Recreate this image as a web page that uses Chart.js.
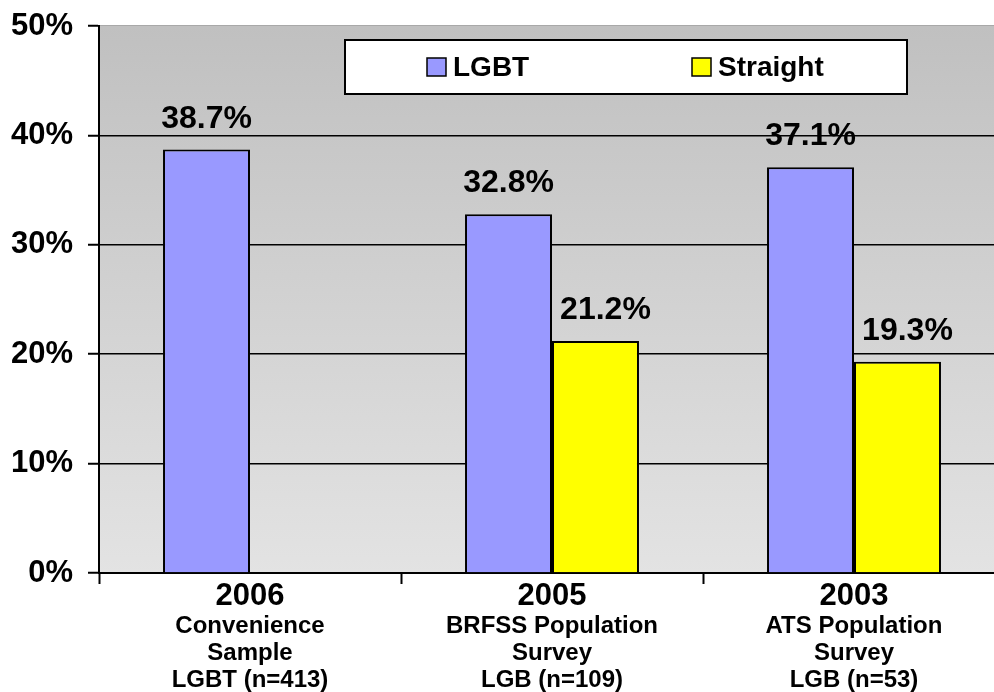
<!DOCTYPE html>
<html>
<head>
<meta charset="utf-8">
<script src="https://cdn.jsdelivr.net/npm/chart.js@4"></script>
<style>
  html, body { margin: 0; padding: 0; background: #fff; overflow: hidden; }
  #wrap { position: absolute; left: 0; top: 0; width: 1005px; height: 692px; }
</style>
</head>
<body>
<div id="wrap"><canvas id="c" width="1005" height="692"></canvas></div>
<script>
// Survey years and sample descriptions
const years = ['2006', '2005', '2003'];
const sampleNotes = [
  ['Convenience', 'Sample', 'LGBT (n=413)'],
  ['BRFSS Population', 'Survey', 'LGB (n=109)'],
  ['ATS Population', 'Survey', 'LGB (n=53)']
];
// Smoking rates (%)
const lgbtRates = [38.7, 32.8, 37.1];
const straightRates = [null, 21.2, 19.3];
const yTicks = [0, 10, 20, 30, 40, 50];

const FONT = '"Liberation Sans", Arial, sans-serif';

// Gray gradient behind the plot
const plotBackground = {
  id: 'plotBackground',
  beforeDraw(chart) {
    const { ctx, chartArea: a } = chart;
    const g = ctx.createLinearGradient(0, a.top, 0, a.bottom);
    g.addColorStop(0, '#c0c0c0');
    g.addColorStop(1, '#e3e3e3');
    ctx.save();
    ctx.fillStyle = g;
    ctx.fillRect(a.left, a.top, a.right - a.left, a.bottom - a.top);
    ctx.strokeStyle = '#a8a8a8';
    ctx.lineWidth = 1;
    ctx.beginPath();
    ctx.moveTo(a.left, a.top - 0.5);
    ctx.lineTo(a.right, a.top - 0.5);
    ctx.stroke();
    ctx.restore();
  }
};

// Value labels above each bar
const valueLabels = {
  id: 'valueLabels',
  afterDatasetsDraw(chart) {
    const { ctx } = chart;
    const shift = [0, 10];
    ctx.save();
    ctx.font = 'bold 32px ' + FONT;
    ctx.fillStyle = '#000';
    ctx.textAlign = 'center';
    ctx.textBaseline = 'alphabetic';
    chart.data.datasets.forEach((ds, i) => {
      chart.getDatasetMeta(i).data.forEach((el, j) => {
        const v = ds.data[j];
        if (v == null) return;
        ctx.fillText(v.toFixed(1) + '%', el.x + shift[i], el.y - 22);
      });
    });
    ctx.restore();
  }
};

// Boxed legend inside the plot area
const boxedLegend = {
  id: 'boxedLegend',
  afterDraw(chart) {
    const { ctx, chartArea: a } = chart;
    const left = a.left + 246, top = a.top + 14, w = 562, h = 54;
    const itemX = [left + 82, left + 347];
    ctx.save();
    ctx.fillStyle = '#fff';
    ctx.fillRect(left, top, w, h);
    ctx.strokeStyle = '#000';
    ctx.lineWidth = 2;
    ctx.strokeRect(left, top, w, h);
    ctx.font = 'bold 28px ' + FONT;
    ctx.textBaseline = 'middle';
    ctx.textAlign = 'left';
    chart.data.datasets.forEach((ds, i) => {
      const x = itemX[i], cy = top + h / 2;
      ctx.fillStyle = ds.backgroundColor;
      ctx.fillRect(x, cy - 9, 19, 18);
      ctx.lineWidth = 1.5;
      ctx.strokeStyle = '#000';
      ctx.strokeRect(x, cy - 9, 19, 18);
      ctx.fillStyle = '#000';
      ctx.fillText(ds.label, x + 26, cy + 1);
    });
    ctx.restore();
  }
};

new Chart(document.getElementById('c'), {
  type: 'bar',
  data: {
    labels: years,
    datasets: [
      { label: 'LGBT', data: lgbtRates, backgroundColor: '#9999ff', borderColor: '#000', borderWidth: 2 },
      { label: 'Straight', data: straightRates, backgroundColor: '#ffff00', borderColor: '#000', borderWidth: 2 }
    ]
  },
  options: {
    responsive: false,
    animation: false,
    devicePixelRatio: 1,
    categoryPercentage: 0.576,
    barPercentage: 1,
    layout: { padding: { left: 0, right: 0, top: 26, bottom: 0 } },
    plugins: { legend: { display: false }, tooltip: { enabled: false } },
    scales: {
      y: {
        min: 0, max: 50,
        afterBuildTicks: s => { s.ticks = yTicks.map(v => ({ value: v })); },
        afterFit: s => { s.width = 99; },
        ticks: {
          padding: 15,
          color: '#000',
          font: { family: FONT, size: 31, weight: 'bold', lineHeight: '20px' },
          callback: v => v + '%'
        },
        grid: {
          color: c => (c.tick && c.tick.value === 50) ? 'rgba(0,0,0,0)' : '#000',
          lineWidth: 1.5,
          tickLength: 11,
          tickColor: '#000',
          tickWidth: 2
        },
        border: { display: true, color: '#000', width: 2 }
      },
      x: {
        weight: 0,
        offset: true,
        afterFit: s => { s.height = 40; },
        ticks: {
          padding: 0,
          color: '#000',
          font: { family: FONT, size: 31, weight: 'bold', lineHeight: '24px' },
          maxRotation: 0
        },
        grid: {
          offset: true,
          drawOnChartArea: false,
          tickLength: 11,
          tickColor: '#000',
          tickWidth: 2
        },
        border: { display: true, color: '#000', width: 2 }
      },
      x2: {
        type: 'category',
        position: 'bottom',
        weight: 1,
        offset: true,
        labels: sampleNotes,
        afterFit: s => { s.height = 79; },
        ticks: {
          padding: 0,
          color: '#000',
          font: { family: FONT, size: 24, weight: 'bold', lineHeight: '27px' },
          maxRotation: 0,
          autoSkip: false
        },
        grid: { display: false, drawTicks: false },
        border: { display: false }
      }
    }
  },
  plugins: [plotBackground, valueLabels, boxedLegend]
});
</script>
</body>
</html>
